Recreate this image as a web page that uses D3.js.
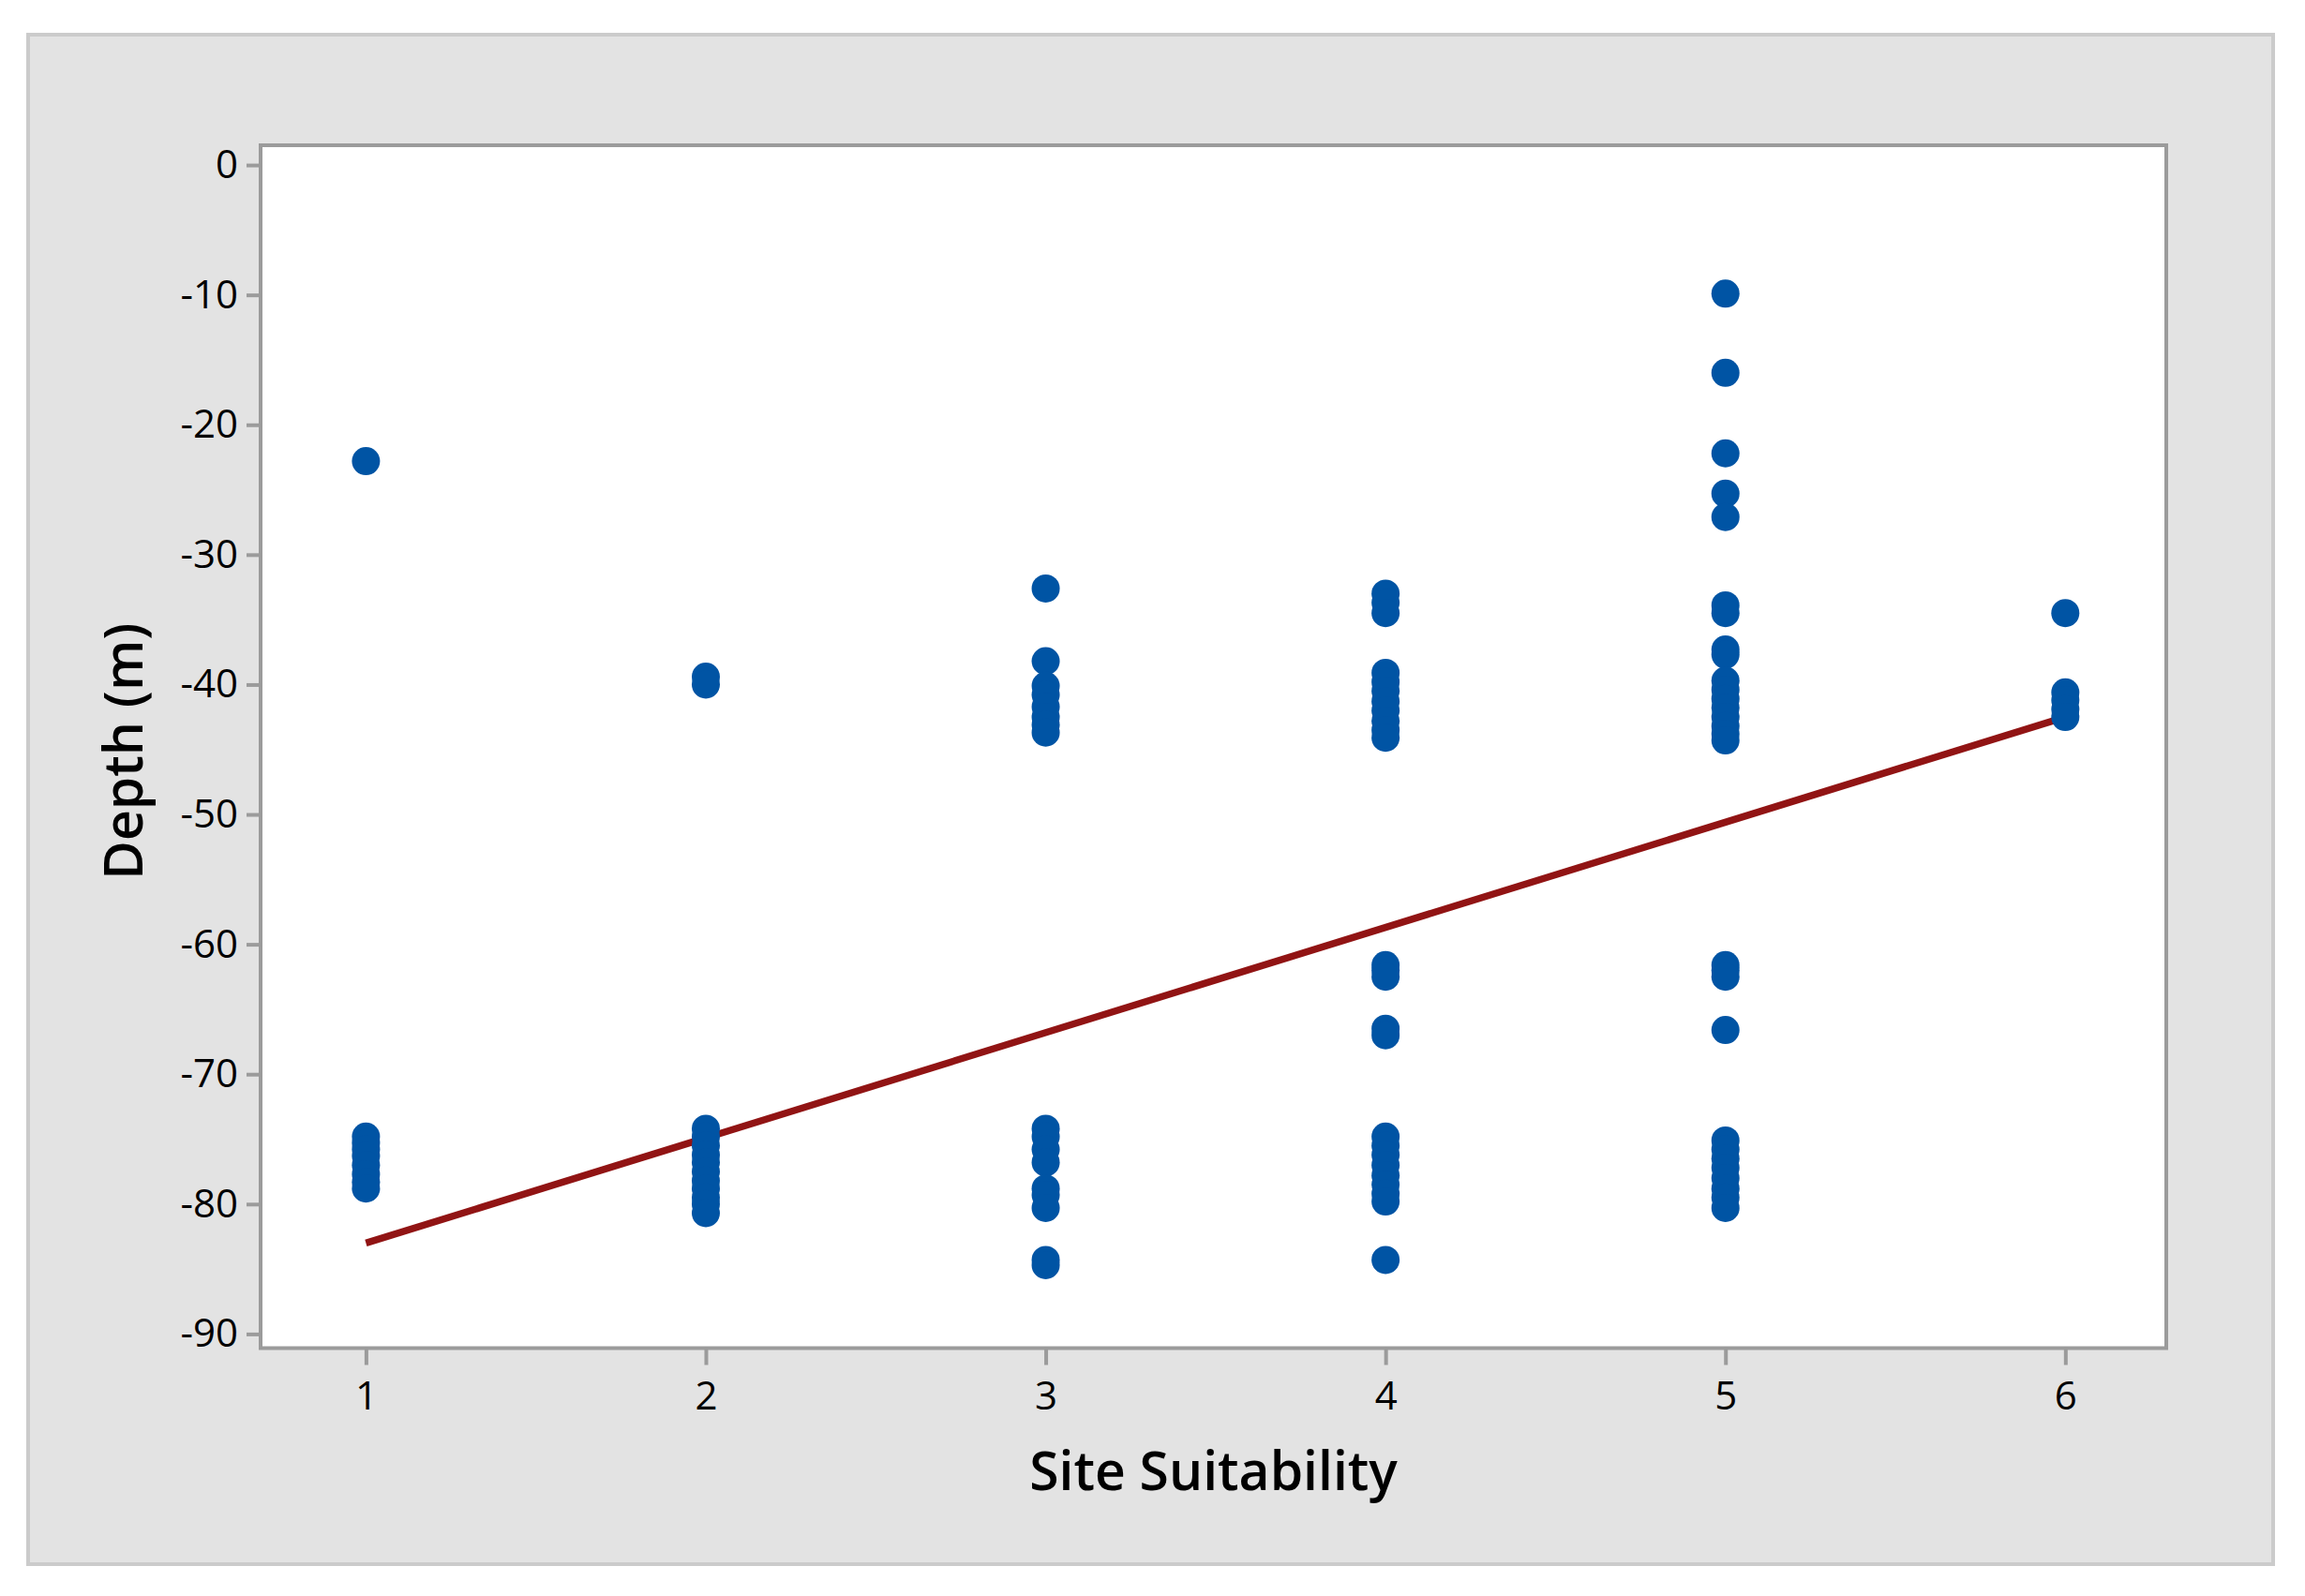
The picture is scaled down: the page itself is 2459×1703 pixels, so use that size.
<!DOCTYPE html>
<html>
<head>
<meta charset="utf-8">
<script src="https://cdn.jsdelivr.net/npm/d3@7"></script>
<style>
  html, body { margin: 0; padding: 0; background: #ffffff; }
  svg { display: block; }
  text { font-family: "Open Sans", "Noto Sans", sans-serif; fill: #000; }
</style>
</head>
<body>
<svg id="chart" width="2459" height="1703"></svg>
<script>
// ---- Data ----
const xTicks = [1, 2, 3, 4, 5, 6];
const yTicks = [0, -10, -20, -30, -40, -50, -60, -70, -80, -90];

const depthSuit1 = [-22.8, -74.8, -75.3, -75.8, -76.3, -77.0, -77.7, -78.3, -78.8];
const depthSuit2 = [-39.4, -40.0, -74.2, -74.8, -75.5, -76.2, -76.8, -77.5, -78.2, -78.8, -79.5, -80.0, -80.7];
const depthSuit3 = [-32.6, -38.2, -40.1, -40.8, -41.7, -42.5, -43.1, -43.7,
                    -74.2, -74.8, -75.8, -76.8, -78.8, -79.3, -80.3, -84.3, -84.7];
const depthSuit4 = [-33.0, -33.7, -34.5, -39.1, -39.8, -40.5, -41.3, -42.0, -42.8, -43.5, -44.1,
                    -61.6, -62.0, -62.5, -66.5, -67.0,
                    -74.8, -75.5, -76.2, -77.0, -77.8, -78.5, -79.2, -79.8, -84.3];
const depthSuit5 = [-9.9, -16.0, -22.2, -25.3, -27.1, -33.9, -34.5, -37.3, -37.7,
                    -39.7, -40.4, -41.1, -41.8, -42.5, -43.2, -43.8, -44.3,
                    -61.6, -62.0, -62.5, -66.6,
                    -75.1, -75.8, -76.5, -77.2, -78.0, -78.8, -79.5, -80.3];
const depthSuit6 = [-34.5, -40.6, -41.2, -41.9, -42.5];

// fitted regression line end points
const fitX = [1, 6];
const fitY = [-83.0, -42.5];

const xLabel = "Site Suitability";
const yLabel = "Depth (m)";

// ---- Build point table ----
const groups = [depthSuit1, depthSuit2, depthSuit3, depthSuit4, depthSuit5, depthSuit6];
const points = [];
groups.forEach((arr, i) => arr.forEach(v => points.push({ x: xTicks[i], y: v })));
const fit = fitX.map((x, i) => ({ x: x, y: fitY[i] }));

// ---- Layout ----
const svg = d3.select("#chart");
const panel = { x: 30, y: 37, w: 2395, h: 1632 };
const plot = { left: 278, top: 155, right: 2311, bottom: 1438.5 };

const x = d3.scaleLinear().domain([0.69, 6.297]).range([plot.left, plot.right]);
const y = d3.scaleLinear().domain([-91.09, 1.52]).range([plot.bottom, plot.top]);

// outer gray panel
svg.append("rect")
  .attr("x", panel.x).attr("y", panel.y)
  .attr("width", panel.w).attr("height", panel.h)
  .attr("fill", "#e3e3e3").attr("stroke", "#cbcbcb").attr("stroke-width", 4);

// plot area
svg.append("rect")
  .attr("x", plot.left).attr("y", plot.top)
  .attr("width", plot.right - plot.left).attr("height", plot.bottom - plot.top)
  .attr("fill", "#ffffff");

// axes
const tickFont = 42;
const xAxis = svg.append("g")
  .attr("transform", `translate(0,${plot.bottom})`)
  .call(d3.axisBottom(x).tickValues(xTicks).tickSize(18).tickPadding(18).tickFormat(d3.format("d")));
const yAxis = svg.append("g")
  .attr("transform", `translate(${plot.left},0)`)
  .call(d3.axisLeft(y).tickValues(yTicks).tickSize(15).tickPadding(9).tickFormat(d => d3.format("d")(d).replace("\u2212", "-")));

[xAxis, yAxis].forEach(g => {
  g.select(".domain").remove();
  g.selectAll(".tick line").attr("stroke", "#9b9b9b").attr("stroke-width", 4);
  g.selectAll(".tick text")
    .attr("font-family", '"Open Sans", "Noto Sans", sans-serif')
    .attr("font-size", tickFont).attr("fill", "#000");
});

// plot border
svg.append("rect")
  .attr("x", plot.left).attr("y", plot.top)
  .attr("width", plot.right - plot.left).attr("height", plot.bottom - plot.top)
  .attr("fill", "none").attr("stroke", "#9b9b9b").attr("stroke-width", 4);

// regression line (behind the dots)
svg.append("path")
  .datum(fit)
  .attr("d", d3.line().x(d => x(d.x)).y(d => y(d.y)))
  .attr("fill", "none").attr("stroke", "#911414").attr("stroke-width", 7.5);

// points
svg.append("g").selectAll("circle")
  .data(points).join("circle")
  .attr("cx", d => x(d.x)).attr("cy", d => y(d.y))
  .attr("r", 15).attr("fill", "#0054a4");

// axis titles
svg.append("text")
  .attr("x", (plot.left + plot.right) / 2).attr("y", 1590)
  .attr("text-anchor", "middle")
  .attr("font-size", 57).attr("font-weight", 600)
  .text(xLabel);

svg.append("text")
  .attr("transform", `translate(152,${(plot.top + plot.bottom) / 2 + 5}) rotate(-90)`)
  .attr("text-anchor", "middle")
  .attr("font-size", 57).attr("font-weight", 600)
  .text(yLabel);
</script>
</body>
</html>
